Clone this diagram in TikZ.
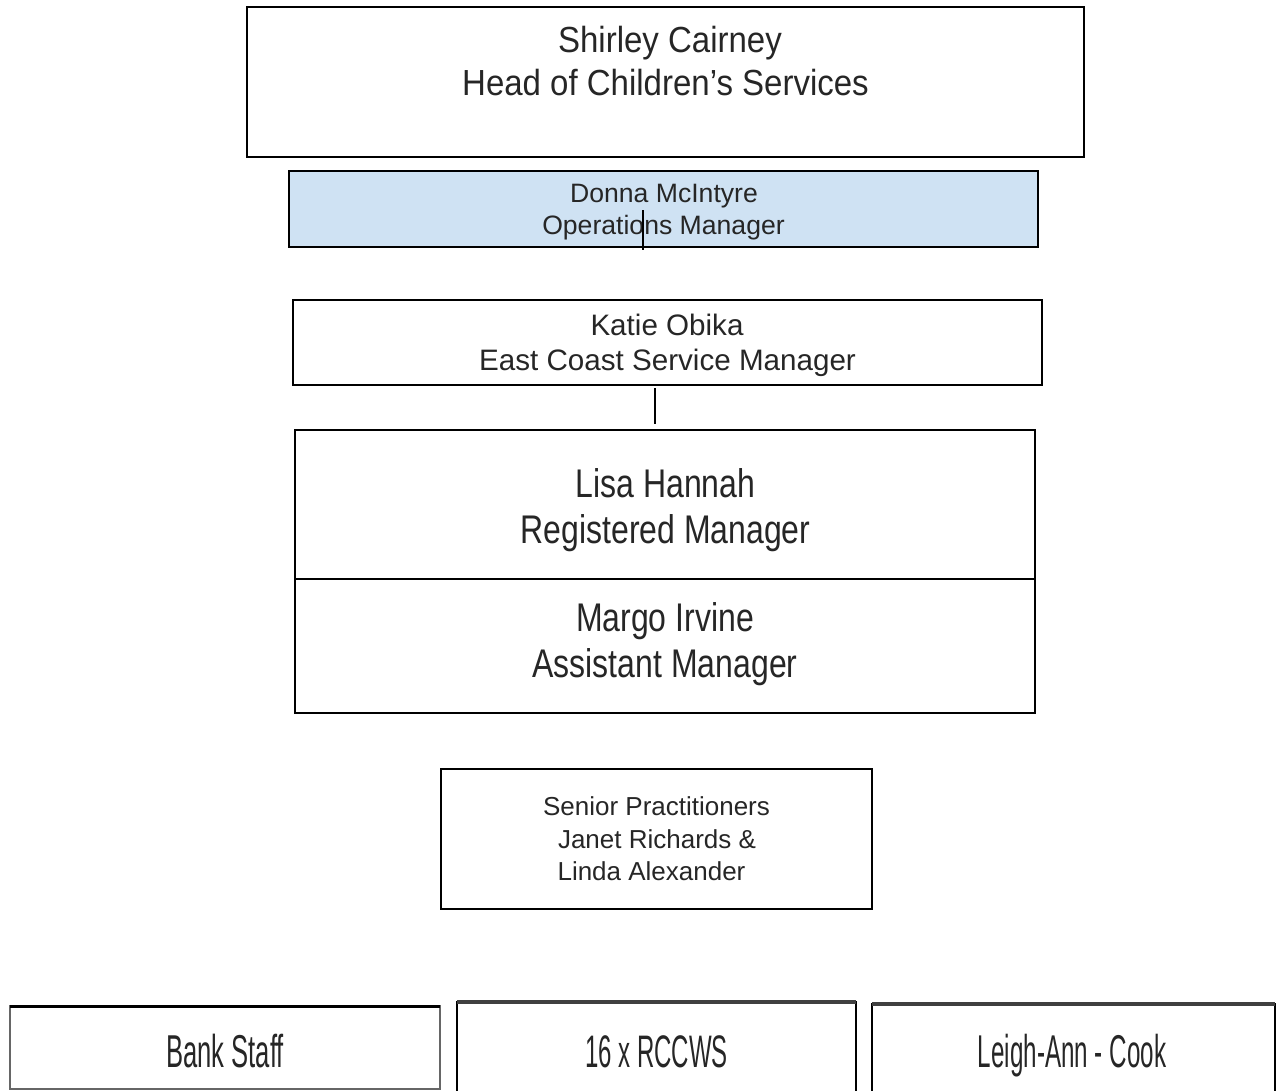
\documentclass[tikz,border=0pt]{standalone}
\usepackage{fontspec}
\setmainfont{Liberation Sans}
\usepackage{graphicx}
\definecolor{opsblue}{HTML}{CFE2F3}
\definecolor{darkedge}{HTML}{404040}
\begin{document}
\begin{tikzpicture}[x=1pt,y=-1pt,
  box/.style={draw=black,line width=1.6pt},
  lbl/.style={anchor=base,inner sep=0pt,text=black!85},
  connector/.style={draw=black,line width=1.8pt}]
\useasboundingbox (0,0) rectangle (1276,1090);
% boxes
\draw[box,line width=2pt] (247,7) rectangle (1084,157);
\node[box,fill=opsblue,minimum width=749pt,minimum height=76pt,inner sep=0pt] (donna) at (663.5,209) {};
\node[box,minimum width=749pt,minimum height=85pt,inner sep=0pt] (katie) at (667.5,342.5) {};
\node[box,minimum width=740pt,minimum height=149pt,inner sep=0pt] (lisa) at (665,504.5) {};
\node[box,minimum width=740pt,minimum height=134pt,inner sep=0pt] (margo) at (665,646) {};
\node[box,minimum width=431pt,minimum height=140pt,inner sep=0pt] (senior) at (656.5,839) {};
\draw[box,draw=black!60] (10,1006) rectangle (440,1089);
\draw[line width=3pt] (10,1006) -- (440,1006);
\draw[box] (457,1002) rectangle (856,1110);
\draw[line width=3.5pt,darkedge] (457,1002) -- (856,1002);
\draw[box] (872,1004) rectangle (1275,1110);
\draw[line width=3.5pt,darkedge] (872,1004) -- (1275,1004);
% texts
\node[lbl,font=\fontsize{33}{40}\selectfont] (s1) at (670,52) {\scalebox{1}[1.1]{Shirley Cairney}};
\node[lbl,font=\fontsize{33}{40}\selectfont] (s2) at (665.5,95) {\scalebox{1}[1.1]{Head of Children’s Services}};
\node[lbl,font=\fontsize{26.6}{32}\selectfont] (d1) at (664,202) {Donna McIntyre};
\node[lbl,font=\fontsize{26.6}{32}\selectfont] (d2) at (663.5,234) {Operations Manager};
\node[lbl,font=\fontsize{29.6}{35}\selectfont] (k1) at (667,335) {Katie Obika};
\node[lbl,font=\fontsize{29.6}{35}\selectfont] (k2) at (667.5,370) {East Coast Service Manager};
\node[lbl,font=\fontsize{32}{40}\selectfont] (l1) at (665.5,497) {\scalebox{1}[1.25]{Lisa Hannah}};
\node[lbl,font=\fontsize{32}{40}\selectfont] (l2) at (665.5,543) {\scalebox{1}[1.25]{Registered Manager}};
\node[lbl,font=\fontsize{32}{40}\selectfont] (m1) at (665,631) {\scalebox{1}[1.25]{Margo Irvine}};
\node[lbl,font=\fontsize{32}{40}\selectfont] (m2) at (665,677) {\scalebox{1}[1.25]{Assistant Manager}};
\node[lbl,font=\fontsize{26}{32}\selectfont] (p1) at (656.5,815) {Senior Practitioners};
\node[lbl,font=\fontsize{26}{32}\selectfont] (p2) at (657,848) {Janet Richards \&};
\node[lbl,font=\fontsize{26}{32}\selectfont] (p3) at (651.5,880) {Linda Alexander};
\node[lbl,font=\fontsize{25.6}{32}\selectfont] (b1) at (225,1067) {\scalebox{1}[1.8]{Bank Staff}};
\node[lbl,font=\fontsize{24}{32}\selectfont] (b2) at (656.5,1067) {\scalebox{1}[1.9]{16 x RCCWS}};
\node[lbl,font=\fontsize{24.2}{32}\selectfont] (b3) at (1072,1067) {\scalebox{1}[1.9]{Leigh-Ann - Cook}};
% connectors
\coordinate (c1a) at (643,210);
\coordinate (c1b) at (643,250);
\coordinate (c2a) at (655,388);
\coordinate (c2b) at (655,424);
\draw[connector] (c1a) -- (c1b);
\draw[connector] (c2a) -- (c2b);
\end{tikzpicture}
\end{document}
